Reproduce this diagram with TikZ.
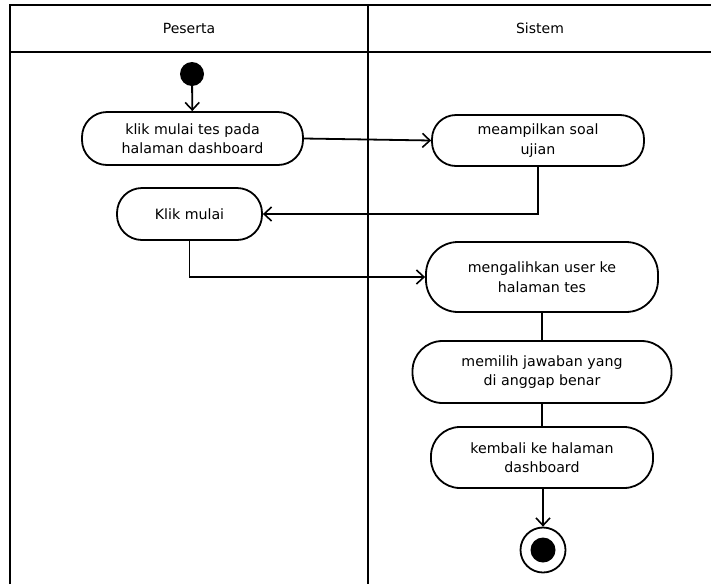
\documentclass[tikz,border=0pt]{standalone}
\usepackage{fontspec}
\setmainfont{DejaVu Sans}
\usetikzlibrary{arrows.meta}
\begin{document}
\begin{tikzpicture}[x=1pt,y=-1pt,
  lane/.style={line width=2pt},
  action/.style={draw, line width=1.8pt, align=center, inner sep=0pt,
    font=\fontsize{14.2}{19.5}\selectfont},
  flow/.style={line width=1.8pt, -{Straight Barb[length=7.5pt,width=14pt,line width=1.6pt]}},
  link/.style={line width=1.8pt}]
  \useasboundingbox[fill=white] (0,0) rectangle (711,584);

  % swimlane frame
  \draw[lane] (10,584) -- (10,4.5) -- (712,4.5);
  \draw[lane] (10,52) -- (712,52);
  \draw[lane] (368,4.5) -- (368,584);
  \node[font=\fontsize{14}{16}\selectfont] (hp) at (189,28) {Peserta};
  \node[font=\fontsize{14}{16}\selectfont] (hs) at (540,28) {Sistem};

  % initial and final states
  \node[circle, fill=black, minimum size=24pt, inner sep=0pt] (start) at (192,74) {};
  \node[circle, draw, line width=1.8pt, minimum size=45pt, inner sep=0pt] (stop) at (543,550) {};
  \node[circle, fill=black, minimum size=25pt, inner sep=0pt] (stopdot) at (543,550) {};

  % actions
  \node[action, minimum width=221pt, minimum height=53pt, rounded corners=25pt]
    (n1) at (192.5,138.5) {klik mulai tes pada\\halaman dashboard};
  \node[action, minimum width=212pt, minimum height=51pt, rounded corners=24pt]
    (n2) at (538,140.5) {meampilkan soal\\ujian};
  \node[action, minimum width=145pt, minimum height=52pt, rounded corners=25pt]
    (n3) at (189.5,214) {Klik mulai};
  \node[action, minimum width=232pt, minimum height=70pt, rounded corners=32pt]
    (n4) at (542,277) {mengalihkan user ke\\halaman tes};
  \node[action, minimum width=259pt, minimum height=62pt, rounded corners=30pt]
    (n5) at (542,372) {memilih jawaban yang\\di anggap benar};
  \node[action, minimum width=222pt, minimum height=61pt, rounded corners=29pt]
    (n6) at (542,457.5) {kembali ke halaman\\dashboard};

  % control flow
  \draw[flow] (start) -- (n1);
  \draw[flow] (n1.east) -- (n2.west);
  \draw[flow] (n2.south) |- (n3.east);
  \draw[flow] (n3.south) |- (n4.west);
  \draw[link] (n4.south) -- (n4.south |- n5.north);
  \draw[link] (n5.south) -- (n5.south |- n6.north);
  \draw[flow] (n6.south -| stop) -- (stop);
\end{tikzpicture}
\end{document}
